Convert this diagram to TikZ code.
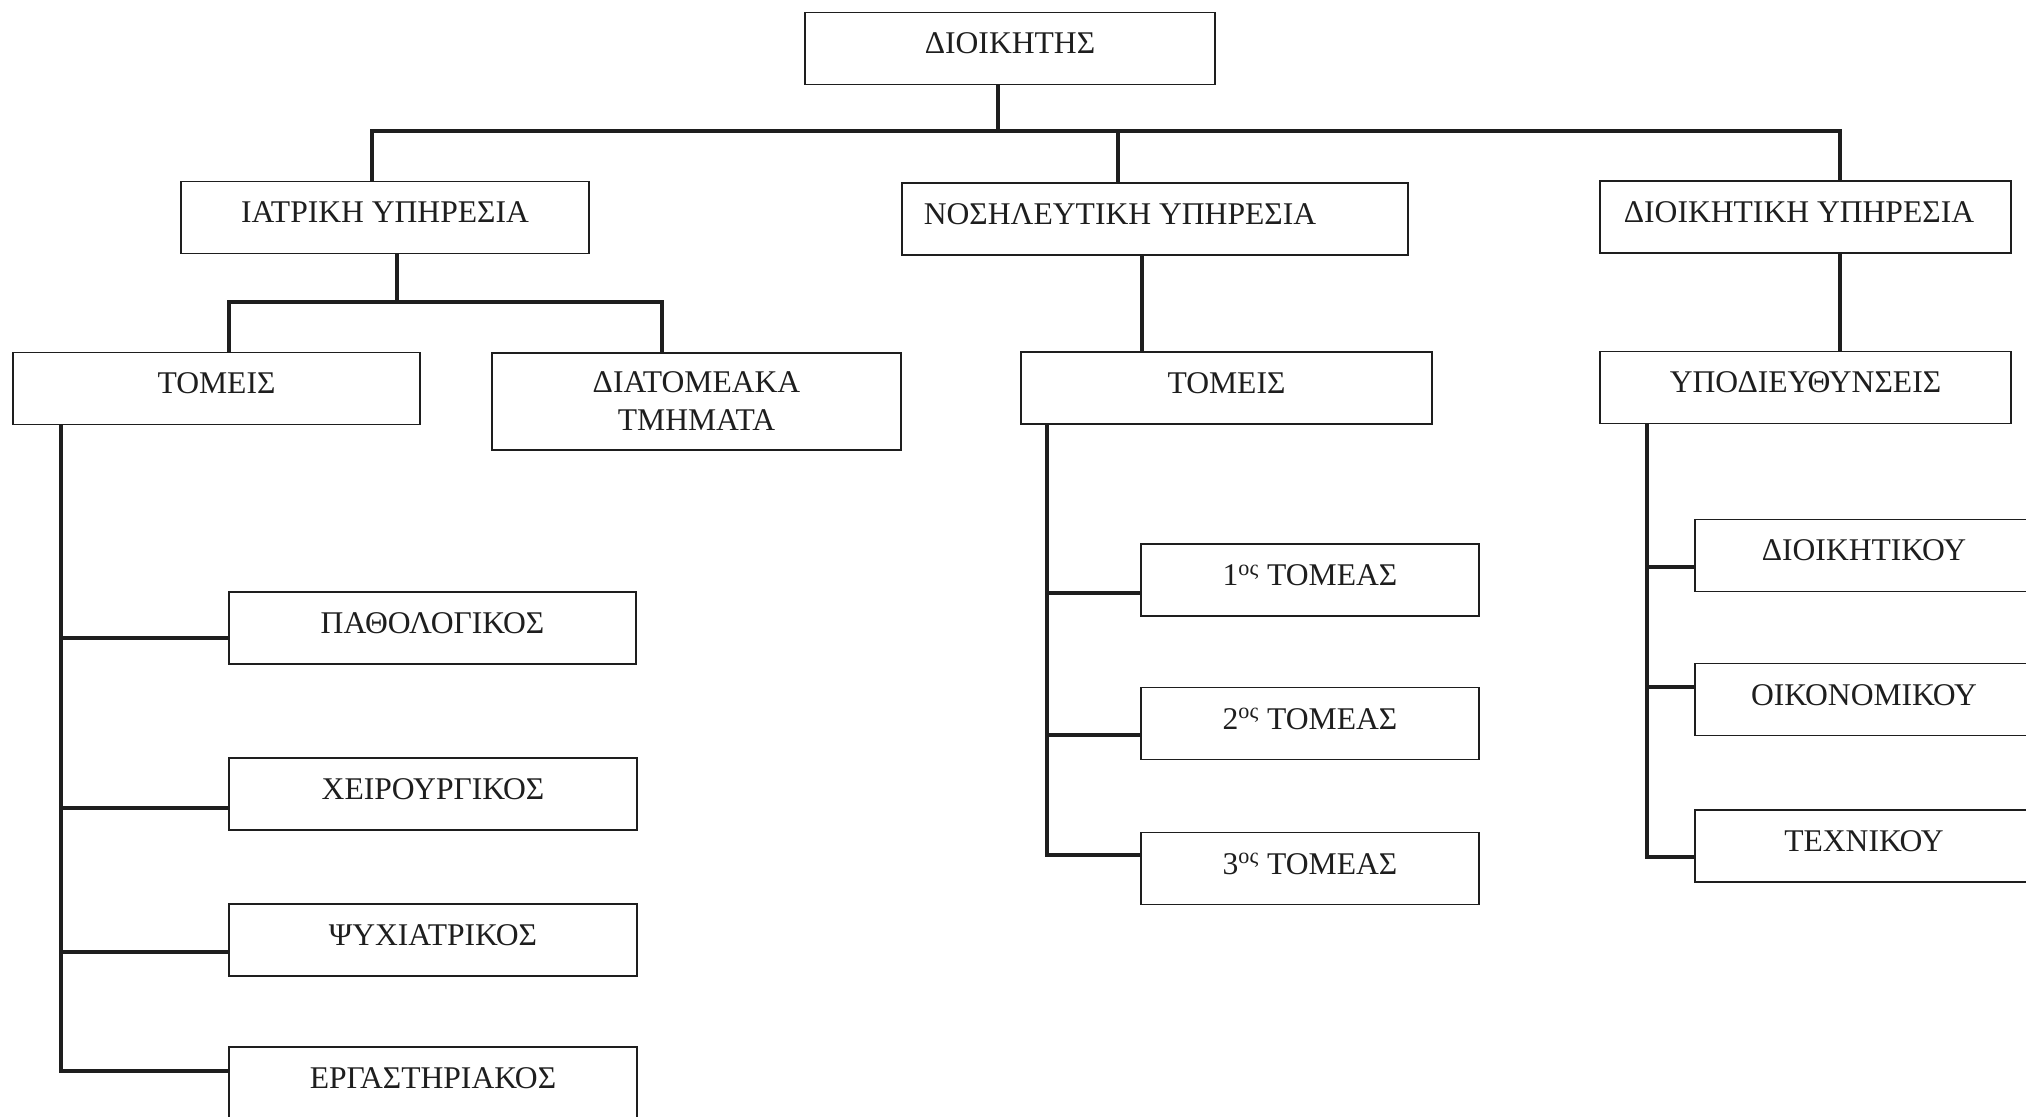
\documentclass[tikz,border=0pt]{standalone}
\usepackage{fontspec}
\setmainfont{Liberation Serif}
\definecolor{ink}{HTML}{1E1E1E}
\begin{document}
\begin{tikzpicture}[x=0.5pt,y=-0.5pt,
  box/.style={draw=ink, line width=0.9pt, fill=white, inner xsep=0pt, inner ysep=0pt,
    text height=20.75pt, text depth=15.25pt, minimum width=#1*0.5pt,
    font=\fontsize{15.8}{19}\selectfont, text=ink},
  box2/.style={draw=ink, line width=0.9pt, fill=white, inner xsep=0pt, inner ysep=0pt,
    minimum width=#1*0.5pt, minimum height=48.5pt, align=center,
    font=\fontsize{15.8}{19}\selectfont, text=ink},
  conn/.style={draw=ink, line width=2.4pt, line join=miter}]
\useasboundingbox (0,0) rectangle (2026,1117);
\clip (0,0) rectangle (2026,1117);
\fill[white] (0,0) rectangle (2026,1117);

% boxes
\node[box=410] (dio)   at (1010,48.5)  {ΔΙΟΙΚΗΤΗΣ};
\node[box=408] (iatr)  at (385,217.5)  {ΙΑΤΡΙΚΗ ΥΠΗΡΕΣΙΑ};
\node[box=506] (nos)   at (1155,219)   {ΝΟΣΗΛΕΥΤΙΚΗ ΥΠΗΡΕΣΙΑ\hspace*{35pt}};
\node[box=411] (dioik) at (1805.5,217) {ΔΙΟΙΚΗΤΙΚΗ ΥΠΗΡΕΣΙΑ\hspace*{6.5pt}};
\node[box=407] (tomL)  at (216.5,388.5) {ΤΟΜΕΙΣ};
\node[box2=409] (diat) at (696.5,401.5) {ΔΙΑΤΟΜΕΑΚΑ\\ΤΜΗΜΑΤΑ};
\node[box=411] (tomM)  at (1226.5,388) {ΤΟΜΕΙΣ};
\node[box=411] (ypod)  at (1805.5,387.5) {ΥΠΟΔΙΕΥΘΥΝΣΕΙΣ};
\node[box=407] (path)  at (432.5,628)  {ΠΑΘΟΛΟΓΙΚΟΣ};
\node[box=408] (xeir)  at (433,794)    {ΧΕΙΡΟΥΡΓΙΚΟΣ};
\node[box=408] (psyx)  at (433,940)    {ΨΥΧΙΑΤΡΙΚΟΣ};
\node[box=408] (erg)   at (433,1083)   {ΕΡΓΑΣΤΗΡΙΑΚΟΣ};
\node[box=338] (t1)    at (1310,580)   {1\textsuperscript{ος} ΤΟΜΕΑΣ};
\node[box=338] (t2)    at (1310,723.5) {2\textsuperscript{ος} ΤΟΜΕΑΣ};
\node[box=338] (t3)    at (1310,868.5) {3\textsuperscript{ος} ΤΟΜΕΑΣ};
\node[box=338] (dk)    at (1864,555.5) {ΔΙΟΙΚΗΤΙΚΟΥ};
\node[box=338] (oik)   at (1864,699.5) {ΟΙΚΟΝΟΜΙΚΟΥ};
\node[box=338] (tex)   at (1864,846)   {ΤΕΧΝΙΚΟΥ};

% top bus
\coordinate (b0) at (998,131);
\coordinate (b1) at (372,131);
\coordinate (b2) at (1118,131);
\coordinate (b3) at (1840,131);
\draw[conn] (dio.south -| b0) -- (b0);
\draw[conn] (b1 |- iatr.north) -- (b1) -- (b3) -- (b3 |- dioik.north);
\draw[conn] (b2) -- (b2 |- nos.north);

% medical service
\coordinate (s1) at (397,302);
\coordinate (s1a) at (229,302);
\coordinate (s1b) at (662,302);
\draw[conn] (iatr.south -| s1) -- (s1);
\draw[conn] (s1a |- tomL.north) -- (s1a) -- (s1b) -- (s1b |- diat.north);

% left spine
\coordinate (jl1) at (61,638);
\coordinate (jl2) at (61,808);
\coordinate (jl3) at (61,952);
\coordinate (jl4) at (61,1071);
\draw[conn] (tomL.south -| jl1) -- (jl4) -- (jl4 -| erg.west);
\draw[conn] (jl1) -- (jl1 -| path.west);
\draw[conn] (jl2) -- (jl2 -| xeir.west);
\draw[conn] (jl3) -- (jl3 -| psyx.west);

% nursing
\coordinate (m0) at (1142,300);
\draw[conn] (nos.south -| m0) -- (tomM.north -| m0);
\coordinate (jm1) at (1047,593);
\coordinate (jm2) at (1047,735);
\coordinate (jm3) at (1047,855);
\draw[conn] (tomM.south -| jm1) -- (jm3) -- (jm3 -| t3.west);
\draw[conn] (jm1) -- (jm1 -| t1.west);
\draw[conn] (jm2) -- (jm2 -| t2.west);

% administration
\draw[conn] (dioik.south -| b3) -- (ypod.north -| b3);
\coordinate (jr1) at (1647,567);
\coordinate (jr2) at (1647,687);
\coordinate (jr3) at (1647,857);
\draw[conn] (ypod.south -| jr1) -- (jr3) -- (jr3 -| tex.west);
\draw[conn] (jr1) -- (jr1 -| dk.west);
\draw[conn] (jr2) -- (jr2 -| oik.west);
\end{tikzpicture}
\end{document}
